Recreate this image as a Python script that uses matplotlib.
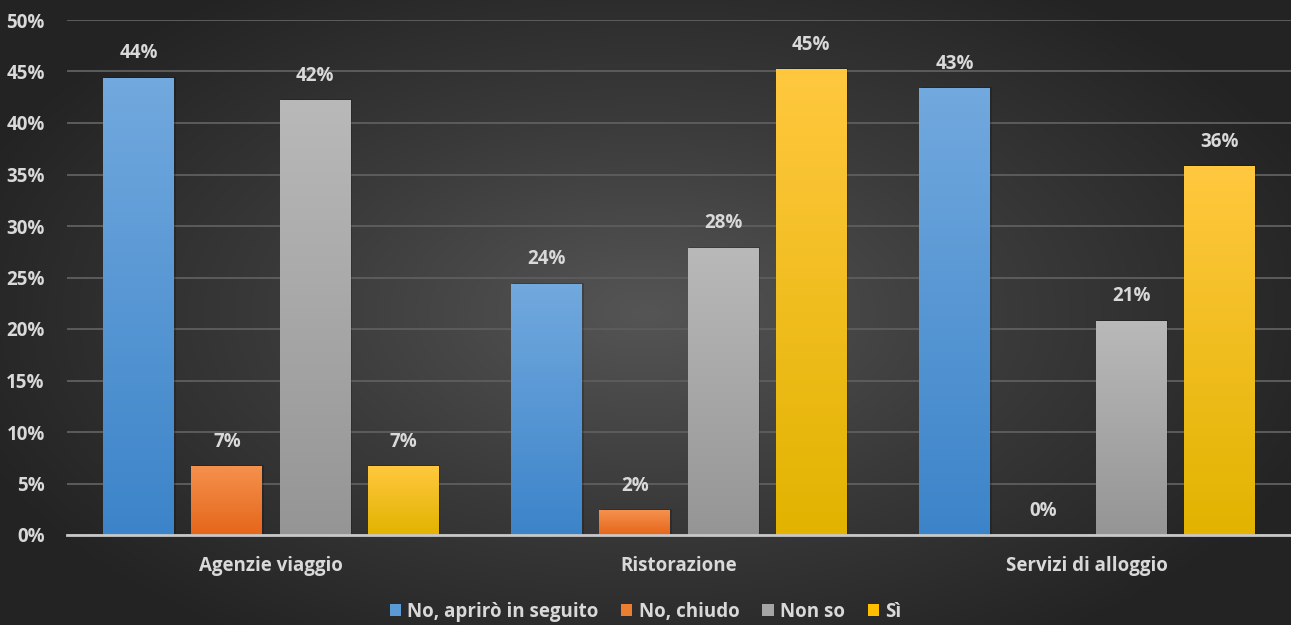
import numpy as np
import matplotlib
matplotlib.use("Agg")
import matplotlib.pyplot as plt
from matplotlib.patches import Rectangle
from matplotlib.colors import LinearSegmentedColormap

plt.rcParams['font.family'] = ['Open Sans', 'DejaVu Sans']

categories = ["Agenzie viaggio", "Ristorazione", "Servizi di alloggio"]
series = ["No, aprirò in seguito", "No, chiudo", "Non so", "Sì"]
no_apriro = [44.4, 24.4, 43.4]
no_chiudo = [6.7, 2.4, 0.0]
non_so = [42.2, 27.9, 20.8]
si = [6.7, 45.2, 35.8]
values = [no_apriro, no_chiudo, non_so, si]

# (top colour, bottom colour) per series
grads = [("#72a9de", "#3c84c9"), ("#f5914e", "#e5661a"),
         ("#b9b9b9", "#959595"), ("#ffc83f", "#e2b300")]
legend_cols = ["#5b9bd5", "#ed7d31", "#a5a5a5", "#ffc000"]
txt = "#d9d9d9"
fs = 13.5

fig = plt.figure(figsize=(12.91, 6.25), dpi=100)

# radial background
bg = fig.add_axes([0, 0, 1, 1], zorder=-10)
yy, xx = np.mgrid[0:1:300j, 0:1:600j]
r = np.sqrt(((xx - 0.5) / 0.75) ** 2 + ((yy - 0.5) / 0.85) ** 2)
bgcmap = LinearSegmentedColormap.from_list("bg", ["#555555", "#3a3a3a", "#232323"])
bg.imshow(r, cmap=bgcmap, vmin=0, vmax=0.75, aspect="auto", extent=[0, 1, 0, 1])
bg.axis("off")

ax = fig.add_axes([67 / 1291, 1 - 535 / 625, 1 - 67 / 1291, (535 - 20) / 625])
ax.patch.set_alpha(0)

step = 0.216
width = 0.174
x = np.arange(len(categories))
for i, (vals, (ctop, cbot)) in enumerate(zip(values, grads)):
    cmap = LinearSegmentedColormap.from_list("g%d" % i, [cbot, ctop])
    for xc, v in zip(x + (i - 1.5) * step, vals):
        left = xc - width / 2
        if v > 0:
            sh = Rectangle((left + 0.003, 0), width, v + 0.1, facecolor="black",
                           alpha=0.18, zorder=2, linewidth=0)
            ax.add_patch(sh)
            rect = Rectangle((left, 0), width, v, facecolor="none", linewidth=0, zorder=3)
            ax.add_patch(rect)
            grad = np.linspace(0, 1, 256).reshape(-1, 1)
            im = ax.imshow(grad, cmap=cmap, origin="lower", aspect="auto",
                           extent=[left, left + width, 0, v], zorder=3)
            im.set_clip_path(rect)
        ax.text(xc, v + 1.4, "%d%%" % round(v), ha="center", va="bottom",
                color=txt, fontsize=fs, fontweight="bold", zorder=5)

ax.set_xlim(-0.5, 2.5)
ax.set_ylim(0, 50)
ax.set_yticks(np.arange(0, 51, 5))
ax.set_yticklabels(["%d%%" % t for t in range(0, 51, 5)])
ax.yaxis.grid(True, color="#5c5c5c", linewidth=1.4, zorder=0)
ax.set_axisbelow(True)
ax.set_xticks(x)
ax.set_xticklabels(categories)
ax.tick_params(axis="both", length=0, colors=txt, labelsize=fs)
ax.tick_params(axis="y", pad=16)
ax.tick_params(axis="x", pad=15)
for lab in ax.get_xticklabels() + ax.get_yticklabels():
    lab.set_fontweight("bold")
for s in ["top", "right", "left"]:
    ax.spines[s].set_visible(False)
ax.spines["bottom"].set_color("#c8c8c8")
ax.spines["bottom"].set_linewidth(2)
ax.spines["bottom"].set_zorder(6)

handles = [Rectangle((0, 0), 1, 1, facecolor=c) for c in legend_cols]
leg = fig.legend(handles, series, loc="center", bbox_to_anchor=(0.5, 1 - 612 / 625),
                 ncol=4, frameon=False, handlelength=0.6, handleheight=0.6,
                 handletextpad=0.35, columnspacing=1.2,
                 prop={"size": 13.5, "weight": "bold"})
for t in leg.get_texts():
    t.set_color(txt)

fig.savefig("out.png", dpi=100)
